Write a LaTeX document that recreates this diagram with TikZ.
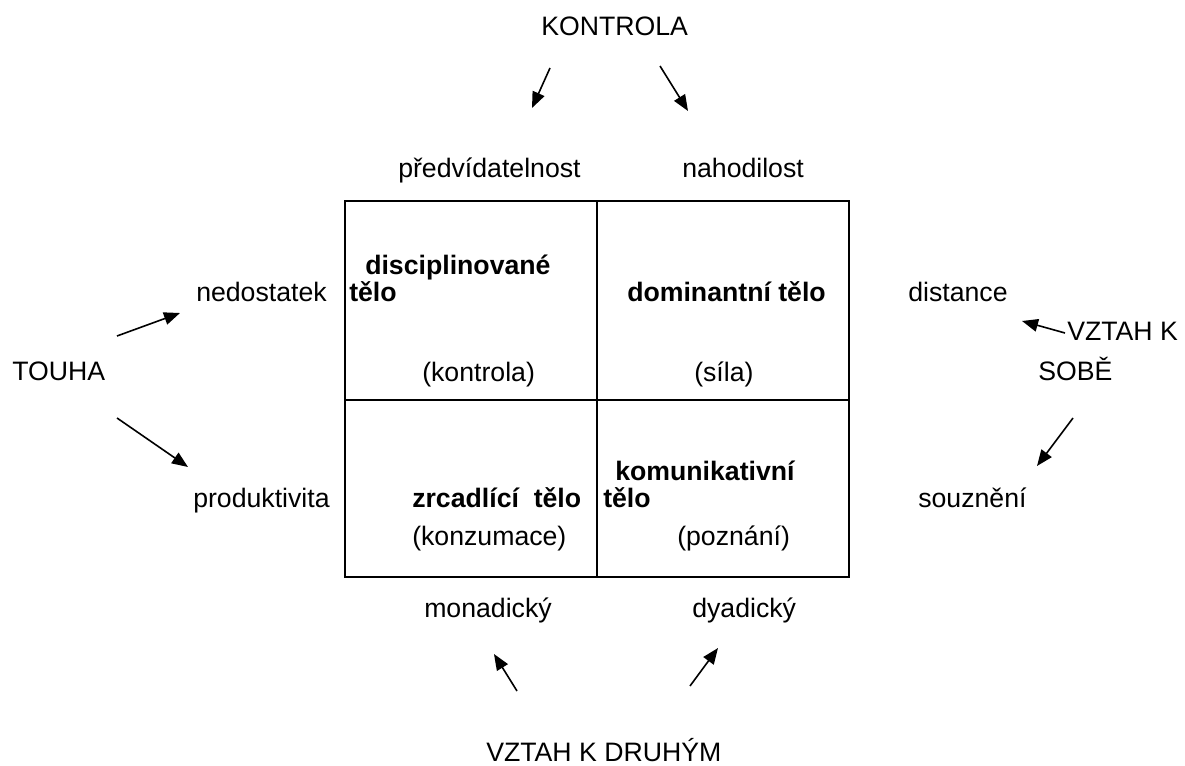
\documentclass[tikz,border=0pt]{standalone}
\usepackage{fontspec}
\setmainfont{Liberation Sans}
\usetikzlibrary{arrows.meta,positioning}
\tikzset{
    word/.style = {
        inner sep=0pt,
        anchor=base west,
        font=\fontsize{20}{24}\selectfont,
        },
    title/.style = {
        word,
        font=\fontsize{20}{24}\selectfont\bfseries,
        },
    pointer/.style = {
        line width=1.2pt,
        -{Triangle[length=12pt,width=9.5pt]},
        },
    grid line/.style = {
        line width=1.6pt,
        },
}
\begin{document}
\begin{tikzpicture}[x=0.75pt,y=-0.75pt]
            \useasboundingbox (0,0) rectangle (1185,766);

            % the four cells
            \coordinate (nw) at (345,201);
            \coordinate (se) at (849,577);
            \coordinate (n) at (597,201);
            \coordinate (s) at (597,577);
            \coordinate (w) at (345,400);
            \coordinate (e) at (849,400);
            \draw[grid line] (nw) rectangle (se);
            \draw[grid line] (n) -- (s);
            \draw[grid line] (w) -- (e);

            \node[title] (dis) at (365,275) {disciplinovan\'e};
            \node[title] (dis2) at (349,302) {t\v{e}lo};
            \node[word] (kon) at (422,382) {(kontrola)};
            \node[title] (dom) at (627,302) {dominantn\'i t\v{e}lo};
            \node[word] (sil) at (694,382) {(s\'ila)};
            \node[title] (zrc) at (412,507) {zrcadl\'ic\'i\ \ t\v{e}lo};
            \node[word] (kzm) at (412,545) {(konzumace)};
            \node[title] (kom) at (615,480) {komunikativn\'i};
            \node[title] (kom2) at (603,507) {t\v{e}lo};
            \node[word] (poz) at (677,545) {(pozn\'an\'i)};

            % outer labels
            \node[word] (kontrola) at (541,36) {KONTROLA};
            \node[word] (pred) at (398,178) {p\v{r}edv\'idatelnost};
            \node[word] (nah) at (682,178) {nahodilost};
            \node[word] (ned) at (196,302) {nedostatek};
            \node[word] (dist) at (908,302) {distance};
            \node[word] (touha) at (12,381) {TOUHA};
            \node[word] (sebe) at (1067,341) {VZTAH K};
            \node[word] (sebe2) at (1038,381) {SOB\v{E}};
            \node[word] (prod) at (193,507) {produktivita};
            \node[word] (souz) at (918,507) {souzn\v{e}n\'i};
            \node[word] (mon) at (424,617) {monadick\'y};
            \node[word] (dya) at (692,617) {dyadick\'y};
            \node[word] (druh) at (486,761) {VZTAH K DRUH\'YM};

            % arrows
            \coordinate (k1) at (550,68);   \coordinate (k2) at (532,108);
            \coordinate (k3) at (660,66);   \coordinate (k4) at (688,111);
            \coordinate (t1) at (117,336);  \coordinate (t2) at (180,313);
            \coordinate (t3) at (117,418);  \coordinate (t4) at (188,467);
            \coordinate (v1) at (1065,333); \coordinate (v2) at (1022,321);
            \coordinate (v3) at (1073,418); \coordinate (v4) at (1037,466);
            \coordinate (d1) at (517,691);  \coordinate (d2) at (494,654);
            \coordinate (d3) at (690,686);  \coordinate (d4) at (718,648);

            \draw[pointer] (k1) -- (k2);
            \draw[pointer] (k3) -- (k4);
            \draw[pointer] (t1) -- (t2);
            \draw[pointer] (t3) -- (t4);
            \draw[pointer] (v1) -- (v2);
            \draw[pointer] (v3) -- (v4);
            \draw[pointer] (d1) -- (d2);
            \draw[pointer] (d3) -- (d4);
        \end{tikzpicture}
\end{document}
